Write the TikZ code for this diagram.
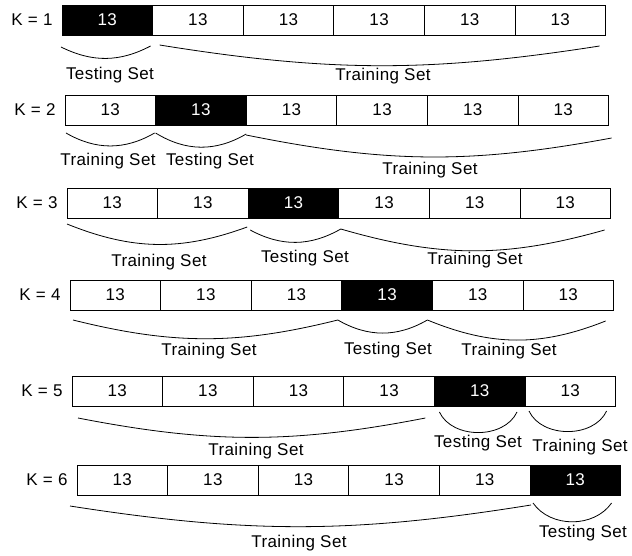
\documentclass[tikz,border=0pt]{standalone}
\usepackage{fontspec}
\setmainfont[LetterSpace=2.5]{Liberation Sans}
\usepackage{tikz}
\usetikzlibrary{positioning}

\begin{document}
\begin{tikzpicture}[
  x=1pt, y=-1pt,
  cell/.style={draw, line width=0.8pt, minimum width=90.6pt, minimum height=30pt, inner sep=0pt, outer sep=0pt, anchor=north west, font=\fontsize{17}{20}\selectfont},
  testcell/.style={cell, fill=black, text=white},
  klab/.style={font=\fontsize{17}{20}\selectfont},
  lb/.style={font=\fontsize{17}{20}\selectfont},
  brc/.style={line width=0.8pt}
]
\useasboundingbox (0,0) rectangle (632,556);
% the six folds
\foreach \r/\x/\y in {1/62/5, 2/65/95, 3/67/188, 4/70/280, 5/72/376, 6/77/465} {
  \node[klab] (k\r) at ({\x-30},{\y+15}) {K = \r};
  \foreach \c in {1,...,6} {
    \ifnum\c=\r \def\st{testcell}\else\def\st{cell}\fi
    \node[\st] (r\r-\c) at ({\x+(\c-1)*90.6},\y) {13};
  }
}
% K = 1
\draw[brc] ([shift={(-1,12)}]r1-1.south west) to[bend right=27] ([shift={(-2,11)}]r1-1.south east);
\draw[brc] ([shift={(7,10)}]r1-2.south west) to[bend right=9] ([shift={(-6,11)}]r1-6.south east);
\node[lb] (ts1) at (110,75) {Testing Set};
\node[lb] (tr1) at (383,76) {Training Set};
% K = 2
\draw[brc] ([shift={(1,8)}]r2-1.south west) to[bend right=30] ([shift={(-1,8)}]r2-1.south east);
\draw[brc] ([shift={(0,8)}]r2-2.south west) to[bend right=31] ([shift={(0,9)}]r2-2.south east);
\draw[brc] ([shift={(0,10)}]r2-3.south west) to[bend right=11] ([shift={(3,13)}]r2-6.south east);
\node[lb] (tr2a) at (108,161) {Training Set};
\node[lb] (ts2) at (210,161) {Testing Set};
\node[lb] (tr2b) at (430,170) {Training Set};
% K = 3
\draw[brc] ([shift={(0,6)}]r3-1.south west) to[bend right=21] ([shift={(-1,9)}]r3-2.south east);
\draw[brc] ([shift={(2,12)}]r3-3.south west) to[bend right=29] ([shift={(2,11)}]r3-3.south east);
\draw[brc] ([shift={(2,11)}]r3-4.south west) to[bend right=16] ([shift={(-6,12)}]r3-6.south east);
\node[lb] (tr3a) at (159,262) {Training Set};
\node[lb] (ts3) at (305,258) {Testing Set};
\node[lb] (tr3b) at (475,260) {Training Set};
% K = 4
\draw[brc] ([shift={(3,10)}]r4-1.south west) to[bend right=14] ([shift={(-4,10)}]r4-3.south east);
\draw[brc] ([shift={(-4,10)}]r4-4.south west) to[bend right=30] ([shift={(-5,10)}]r4-4.south east);
\draw[brc] ([shift={(-5,10)}]r4-5.south west) to[bend right=22] ([shift={(-8,11)}]r4-6.south east);
\node[lb] (tr4a) at (209,351) {Training Set};
\node[lb] (ts4) at (388,350) {Testing Set};
\node[lb] (tr4b) at (509,351) {Training Set};
% K = 5
\draw[brc] ([shift={(6,12)}]r5-1.south west) to[bend right=11] ([shift={(-9,12)}]r5-4.south east);
\draw[brc] ([shift={(5,6)}]r5-5.south west) to[bend right=65] ([shift={(-8,6)}]r5-5.south east);
\draw[brc] ([shift={(4,5)}]r5-6.south west) to[bend right=65] ([shift={(-9,5)}]r5-6.south east);
\node[lb] (tr5a) at (256,451) {Training Set};
\node[lb] (ts5) at (478,443) {Testing Set};
\node[lb] (tr5b) at (580,447) {Training Set};
% K = 6
\draw[brc] ([shift={(-7,11)}]r6-1.south west) to[bend right=9] ([shift={(1,10)}]r6-5.south east);
\draw[brc] ([shift={(3,8)}]r6-6.south west) to[bend right=55] ([shift={(-9,8)}]r6-6.south east);
\node[lb] (tr6) at (299,543) {Training Set};
\node[lb] (ts6) at (583,533) {Testing Set};
\end{tikzpicture}
\end{document}
